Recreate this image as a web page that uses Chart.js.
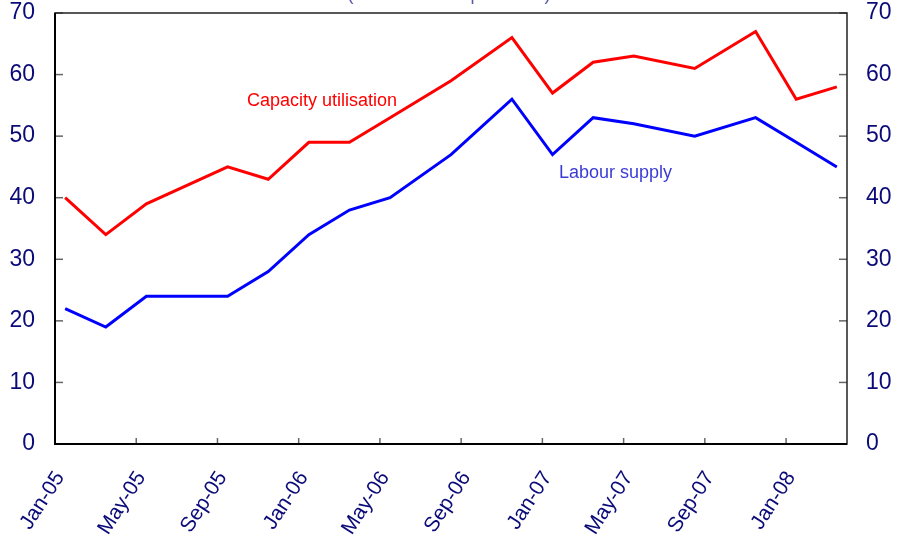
<!DOCTYPE html>
<html>
<head>
<meta charset="utf-8">
<script src="https://cdn.jsdelivr.net/npm/chart.js@4/dist/chart.umd.min.js"></script>
<style>
  html, body { margin: 0; padding: 0; background: #ffffff; }
  #wrap { width: 898px; height: 539px; position: relative; }
</style>
</head>
<body>
<div id="wrap"><canvas id="c"></canvas></div>
<script>
// ---- data ----
const dateLabels = ['Jan-05','Mar-05','May-05','Sep-05','Nov-05','Jan-06','Mar-06','May-06',
                    'Aug-06','Nov-06','Jan-07','Mar-07','May-07','Aug-07','Nov-07','Jan-08','Mar-08'];
const capacityUtilisation = [40,34,39,45,43,49,49,53,59,66,57,62,63,61,67,56,58];
const labourSupply        = [22,19,24,24,28,34,38,40,47,56,47,53,52,50,53,49,45];
const xTickLabels = ['Jan-05','May-05','Sep-05','Jan-06','May-06','Sep-06','Jan-07','May-07','Sep-07','Jan-08'];
const yTicks = [0,10,20,30,40,50,60,70];

const MONTHS = ['Jan','Feb','Mar','Apr','May','Jun','Jul','Aug','Sep','Oct','Nov','Dec'];
function monthIndex(lbl) {           // months since Jan-05, mid-month
  const [m, y] = lbl.split('-');
  return MONTHS.indexOf(m) + (parseInt(y, 10) - 5) * 12 + 0.5;
}
const xTickValues = xTickLabels.map(l => monthIndex(l) - 0.5);

const FONT = "'Liberation Sans', Arial, sans-serif";
const NAVY = '#0a0a78';

const decor = {
  id: 'decor',
  afterDraw(chart) {
    const ctx = chart.ctx, a = chart.chartArea;
    const xs = chart.scales.x, yl = chart.scales.y, yr = chart.scales.y2;
    ctx.save();
    ctx.strokeStyle = '#666666';
    ctx.lineWidth = 1.5;
    yTicks.forEach(v => {
      const py = yl.getPixelForValue(v);
      ctx.beginPath(); ctx.moveTo(a.left, py); ctx.lineTo(a.left + 8, py); ctx.stroke();
      const pr = yr.getPixelForValue(v);
      ctx.beginPath(); ctx.moveTo(a.right, pr); ctx.lineTo(a.right - 8, pr); ctx.stroke();
    });
    xTickValues.forEach(v => {
      const px = xs.getPixelForValue(v);
      ctx.beginPath(); ctx.moveTo(px, a.bottom); ctx.lineTo(px, a.bottom - 6); ctx.stroke();
    });
    ctx.strokeStyle = '#222222';
    ctx.lineWidth = 1.5;
    ctx.strokeRect(a.left, a.top, a.right - a.left, a.bottom - a.top);
    ctx.lineWidth = 2;
    ctx.strokeStyle = '#000000';
    ctx.beginPath(); ctx.moveTo(a.left, a.top); ctx.lineTo(a.left, a.bottom); ctx.lineTo(a.right, a.bottom); ctx.stroke();
    ctx.font = '18px ' + FONT;
    ctx.textBaseline = 'alphabetic';
    ctx.textAlign = 'left';
    ctx.fillStyle = '#ff0000';
    ctx.fillText('Capacity utilisation', 247, 106);
    ctx.fillStyle = '#3b3bd6';
    ctx.fillText('Labour supply', 559, 178);
    ctx.fillStyle = '#5858a8';
    ctx.textAlign = 'center';
    ctx.fillText('(Per cent of respondents)', 449, -0.5);
    ctx.restore();
  }
};

function fixY(w) {
  return s => { s.width = w; s.paddingTop = 0; s.paddingBottom = 0; };
}

new Chart(document.getElementById('c'), {
  type: 'line',
  data: {
    datasets: [
      {
        label: 'Capacity utilisation',
        data: dateLabels.map((l, i) => ({ x: monthIndex(l), y: capacityUtilisation[i] })),
        borderColor: '#ff0000',
        borderWidth: 3,
        pointRadius: 0,
        tension: 0,
        fill: false
      },
      {
        label: 'Labour supply',
        data: dateLabels.map((l, i) => ({ x: monthIndex(l), y: labourSupply[i] })),
        borderColor: '#0000ff',
        borderWidth: 3,
        pointRadius: 0,
        tension: 0,
        fill: false
      }
    ]
  },
  options: {
    responsive: true,
    maintainAspectRatio: false,
    animation: false,
    devicePixelRatio: 1,
    layout: { padding: { top: 13, left: 0, right: 0, bottom: 0 } },
    plugins: { legend: { display: false }, tooltip: { enabled: false }, title: { display: false } },
    scales: {
      x: {
        type: 'linear',
        min: 0,
        max: 39,
        afterBuildTicks: s => { s.ticks = xTickValues.map(v => ({ value: v })); },
        afterFit: s => { s.height = 95; s.paddingLeft = 0; s.paddingRight = 0; },
        grid: { display: false, drawTicks: false },
        border: { display: false },
        ticks: {
          autoSkip: false,
          minRotation: 57,
          maxRotation: 57,
          padding: 23,
          labelOffset: 5,
          color: NAVY,
          font: { family: FONT, size: 21 },
          callback: v => { const i = xTickValues.indexOf(v); return i >= 0 ? xTickLabels[i] : ''; }
        }
      },
      y: {
        position: 'left',
        min: 0,
        max: 70,
        afterBuildTicks: s => { s.ticks = yTicks.map(v => ({ value: v })); },
        afterFit: fixY(55),
        grid: { display: false, drawTicks: false },
        border: { display: false },
        ticks: { padding: 20, color: NAVY, font: { family: FONT, size: 23 } }
      },
      y2: {
        position: 'right',
        min: 0,
        max: 70,
        afterBuildTicks: s => { s.ticks = yTicks.map(v => ({ value: v })); },
        afterFit: fixY(51),
        grid: { display: false, drawTicks: false },
        border: { display: false },
        ticks: { padding: 19, color: NAVY, font: { family: FONT, size: 23 } }
      }
    }
  },
  plugins: [decor]
});
</script>
</body>
</html>
